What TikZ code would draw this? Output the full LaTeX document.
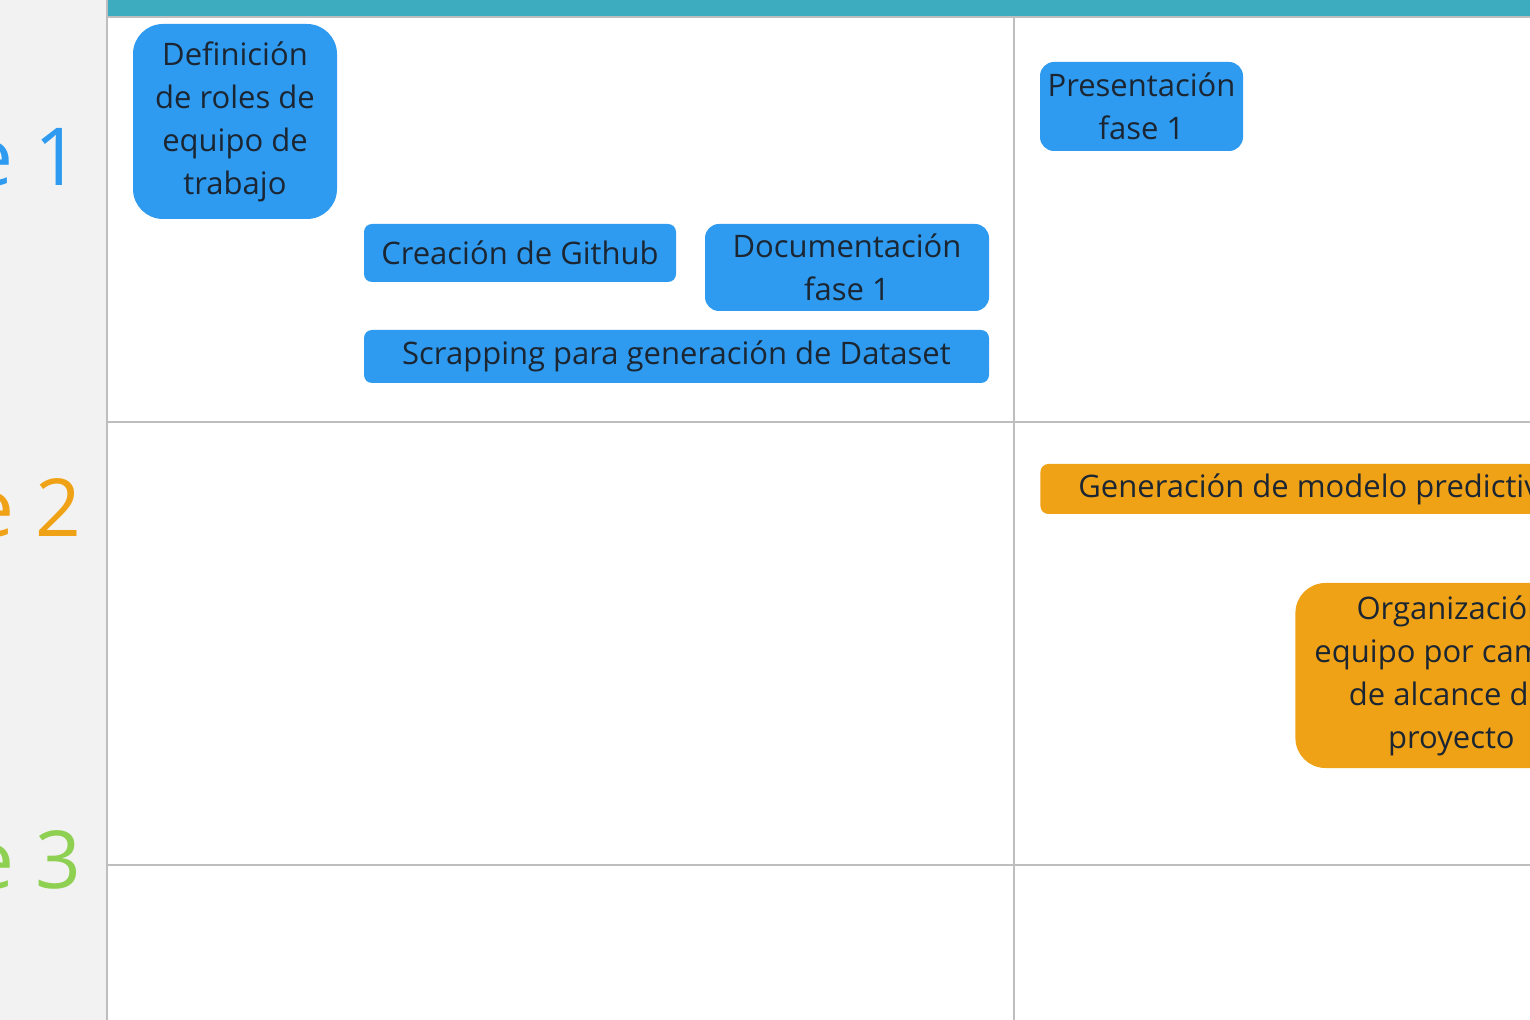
\documentclass[tikz,border=0pt]{standalone}
\usepackage{fontspec}
\setmainfont{Open Sans}
\usepackage{xcolor}
\usepackage{tikz}

\definecolor{faseazul}{RGB}{46,155,240}
\definecolor{fasenaranja}{RGB}{240,162,23}
\definecolor{faseverde}{RGB}{142,208,82}
\definecolor{barra}{RGB}{61,172,190}
\definecolor{panel}{RGB}{242,242,242}
\definecolor{linea}{RGB}{190,190,190}
\definecolor{texto}{RGB}{27,38,50}

\begin{document}
\begin{tikzpicture}[x=0.5pt, y=-0.5pt,
    tarea/.style={text=texto, align=center, inner sep=0pt,
      font=\fontsize{15.5pt}{21.5pt}\selectfont},
    azul/.style={tarea, fill=faseazul},
    naranja/.style={tarea, fill=fasenaranja},
    etiqueta/.style={anchor=east, font=\fontsize{40pt}{48pt}\selectfont}]
      \useasboundingbox (0,0) rectangle (1530,1020);
      \clip (0,0) rectangle (1530,1020);
      % fondo y rejilla
      \fill[panel] (0,0) rectangle (107,1020);
      \fill[barra] (107,0) rectangle (1530,16);
      \draw[linea, line width=1pt] (107,17) -- (1530,17);
      \draw[linea, line width=1pt] (107,0) -- (107,1020);
      \draw[linea, line width=1pt] (1014,16) -- (1014,1020);
      \draw[linea, line width=1pt] (107,422) -- (1530,422);
      \draw[linea, line width=1pt] (107,865) -- (1530,865);
      % fases
      \node[etiqueta, text=faseazul] (fase1) at (87,157) {Fase 1};
      \node[etiqueta, text=fasenaranja] (fase2) at (88,508) {Fase 2};
      \node[etiqueta, text=faseverde] (fase3) at (88,860) {Fase 3};
      % fase 1
      \node[azul, rounded corners=15pt, minimum width=102pt, minimum height=97.5pt] (roles) at (235,121.5)
        {Definición\\de roles de\\equipo de\\trabajo};
      \node[azul, rounded corners=4pt, minimum width=156pt, minimum height=29pt] (github) at (520,253)
        {Creación de Github};
      \node[azul, rounded corners=7pt, minimum width=142pt, minimum height=43.5pt] (docfase) at (847,267.5)
        {Documentación\\fase 1};
      \node[azul, rounded corners=4pt, minimum width=312.5pt, minimum height=26.5pt] (scrapping) at (676.5,356.5)
        {Scrapping para generación de Dataset};
      \node[azul, rounded corners=7pt, minimum width=101.5pt, minimum height=44.5pt] (presfase) at (1141.5,106.5)
        {Presentación\\fase 1};
      % fase 2
      \node[naranja, anchor=west, rounded corners=4pt, inner xsep=19pt, minimum height=25pt] (modelo) at (1040,489)
        {Generación de modelo predictivo};
      \node[naranja, anchor=west, rounded corners=15pt, minimum width=156pt, minimum height=92.5pt] (alcance) at (1295,675.5)
        {Organización\\equipo por cambio\\de alcance del\\proyecto};
    \end{tikzpicture}
\end{document}
